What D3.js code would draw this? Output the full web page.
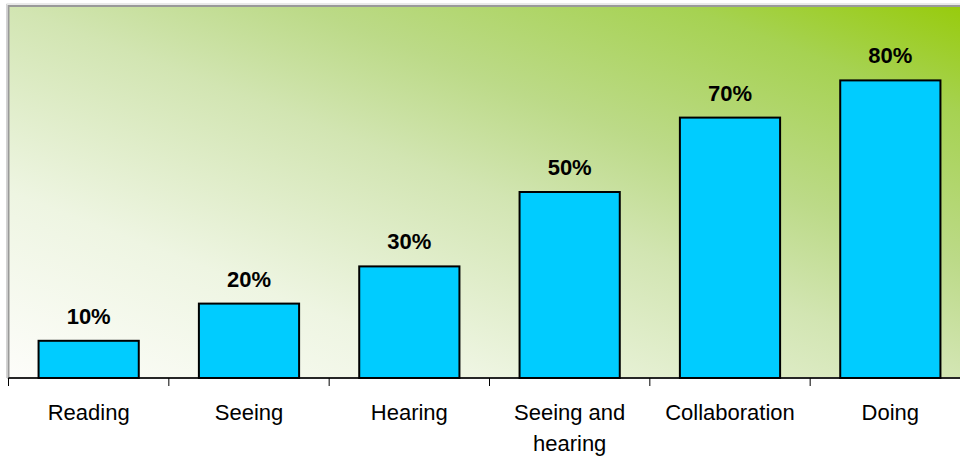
<!DOCTYPE html>
<html>
<head>
<meta charset="utf-8">
<script src="https://cdn.jsdelivr.net/npm/d3@7"></script>
<style>
  html, body { margin: 0; padding: 0; background: #ffffff; }
  svg { display: block; }
  text { font-family: "Liberation Sans", Arial, sans-serif; }
</style>
</head>
<body>
<svg id="chart" width="960" height="458"></svg>
<script>
// Learning retention by activity
const categories = ["Reading", "Seeing", "Hearing", "Seeing and hearing", "Collaboration", "Doing"];
const values = [10, 20, 30, 50, 70, 80];
const valueLabels = ["10%", "20%", "30%", "50%", "70%", "80%"];

const svg = d3.select("#chart");
const plot = { left: 8.5, right: 970.5, top: 6, bottom: 378 };

const x = d3.scaleBand()
  .domain(categories)
  .range([plot.left, plot.right])
  .paddingInner(0.375)
  .paddingOuter(0.1875);

const y = d3.scaleLinear()
  .domain([0, 100])
  .range([plot.bottom, plot.top]);

// Background gradient: pale at lower left, lime green at upper right
const defs = svg.append("defs");
const grad = defs.append("linearGradient")
  .attr("id", "bg")
  .attr("x1", 0).attr("y1", 1)
  .attr("x2", 1).attr("y2", 0);
[
  [0, "#fdfdfa"],
  [0.25, "#eef5e2"],
  [0.5, "#d2e5b2"],
  [0.65, "#bcda88"],
  [0.85, "#a6d252"],
  [1, "#97cb0a"]
].forEach(([o, c]) => grad.append("stop").attr("offset", o).attr("stop-color", c));

// Soft outer edge of the plot frame
svg.append("line")
  .attr("x1", plot.left - 2).attr("x2", 960)
  .attr("y1", plot.top - 2).attr("y2", plot.top - 2)
  .attr("stroke", "#d4d4d4").attr("stroke-width", 1);
svg.append("line")
  .attr("x1", plot.left - 2).attr("x2", plot.left - 2)
  .attr("y1", plot.top - 2).attr("y2", plot.bottom)
  .attr("stroke", "#d4d4d4").attr("stroke-width", 1);

svg.append("rect")
  .attr("x", plot.left)
  .attr("y", plot.top)
  .attr("width", plot.right - plot.left)
  .attr("height", plot.bottom - plot.top)
  .attr("fill", "url(#bg)")
  .attr("stroke", "#999999")
  .attr("stroke-width", 2);

// Bars
svg.append("g")
  .selectAll("rect")
  .data(values)
  .join("rect")
  .attr("x", (d, i) => x(categories[i]))
  .attr("y", d => y(d))
  .attr("width", x.bandwidth())
  .attr("height", d => y(0) - y(d))
  .attr("fill", "#00ccff")
  .attr("stroke", "#000000")
  .attr("stroke-width", 2);

// Value labels
svg.append("g")
  .selectAll("text")
  .data(values)
  .join("text")
  .attr("x", (d, i) => x(categories[i]) + x.bandwidth() / 2)
  .attr("y", d => y(d) - 17)
  .attr("text-anchor", "middle")
  .attr("font-size", 22)
  .attr("font-weight", "bold")
  .attr("fill", "#000000")
  .text((d, i) => valueLabels[i]);

// Category axis with ticks between the bands
const axis = svg.append("g");
axis.append("line")
  .attr("x1", plot.left).attr("x2", 960)
  .attr("y1", plot.bottom).attr("y2", plot.bottom)
  .attr("stroke", "#000000").attr("stroke-width", 1.5);
const step = x.step();
const edges = d3.range(categories.length + 1).map(i => plot.left + i * step);
axis.selectAll("line.tick")
  .data(edges)
  .join("line")
  .attr("class", "tick")
  .attr("x1", d => d).attr("x2", d => d)
  .attr("y1", plot.bottom).attr("y2", plot.bottom + 8)
  .attr("stroke", "#000000").attr("stroke-width", 1);

// Wrap long category names onto two lines
const measurer = svg.append("text").attr("font-size", 22).attr("visibility", "hidden");
function wrap(label, maxWidth) {
  const words = label.split(" ");
  const lines = [];
  let line = [];
  words.forEach(w => {
    const trial = line.concat(w).join(" ");
    measurer.text(trial);
    if (line.length && measurer.node().getComputedTextLength() > maxWidth) {
      lines.push(line.join(" "));
      line = [w];
    } else {
      line.push(w);
    }
  });
  lines.push(line.join(" "));
  return lines;
}

const catLabels = axis.selectAll("text.cat")
  .data(categories)
  .join("text")
  .attr("class", "cat")
  .attr("x", d => x(d) + x.bandwidth() / 2)
  .attr("y", plot.bottom + 42)
  .attr("text-anchor", "middle")
  .attr("font-size", 22)
  .attr("fill", "#000000");
catLabels.each(function(d) {
  const el = d3.select(this);
  const cx = x(d) + x.bandwidth() / 2;
  wrap(d, 150).forEach((ln, i) => {
    el.append("tspan")
      .attr("x", cx)
      .attr("dy", i === 0 ? 0 : 31)
      .text(ln);
  });
});
measurer.remove();
</script>
</body>
</html>
